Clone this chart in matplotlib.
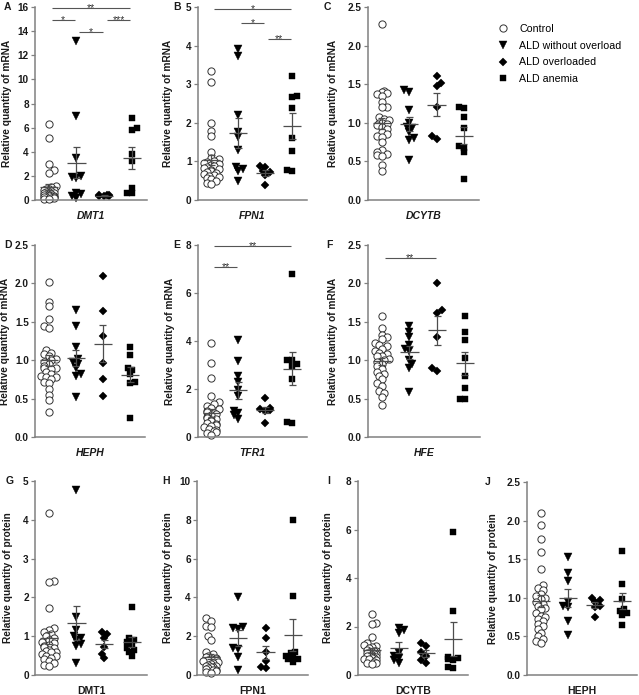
import numpy as np
import matplotlib
matplotlib.use('Agg')
import matplotlib.pyplot as plt
from matplotlib.lines import Line2D

plt.rcParams['font.family'] = ['Liberation Sans', 'DejaVu Sans']

W, H = 639, 695
DPI = 100

group_names = ['Control', 'ALD without overload', 'ALD overloaded', 'ALD anemia']
group_markers = ['o', 'v', 'D', 's']

# ---------------- data ----------------
# A: DMT1 mRNA
A_control = [6.3, 5.1, 3.0, 2.5, 2.2, 1.15, 1.05, 0.95, 0.9, 0.85, 0.8, 0.75, 0.7, 0.65, 0.6,
             0.55, 0.5, 0.45, 0.42, 0.4, 0.35, 0.32, 0.3, 0.28, 0.25, 0.22, 0.2, 0.15, 0.12, 0.1]
A_without = [13.2, 7.0, 3.5, 2.0, 1.8, 1.9, 0.6, 0.5, 0.3, 0.2]
A_overloaded = [0.45, 0.4, 0.38, 0.35, 0.32, 0.3]
A_anemia = [6.8, 6.0, 5.8, 3.8, 3.2, 1.0, 0.6, 0.6]
# B: FPN1 mRNA
B_control = [3.35, 3.05, 2.0, 1.78, 1.65, 1.25, 1.1, 1.05, 1.0, 0.98, 0.95, 0.92, 0.9, 0.88, 0.85,
             0.82, 0.8, 0.78, 0.75, 0.72, 0.7, 0.68, 0.65, 0.62, 0.6, 0.58, 0.55, 0.5, 0.45, 0.42]
B_without = [3.9, 3.72, 2.2, 1.75, 1.62, 1.3, 0.85, 0.8, 0.75, 0.5]
B_overloaded = [0.88, 0.85, 0.75, 0.72, 0.65, 0.38]
B_anemia = [3.22, 2.7, 2.68, 2.38, 1.6, 1.28, 0.78, 0.76]
# C: DCYTB mRNA
C_control = [2.28, 1.41, 1.40, 1.38, 1.37, 1.35, 1.27, 1.21, 1.20, 1.07, 1.05, 1.03, 1.0, 1.0, 0.98,
             0.97, 0.95, 0.92, 0.88, 0.85, 0.83, 0.82, 0.75, 0.65, 0.62, 0.6, 0.58, 0.57, 0.45, 0.37]
C_without = [1.43, 1.4, 1.17, 1.0, 0.95, 0.93, 0.88, 0.8, 0.78, 0.52]
C_overloaded = [1.6, 1.52, 1.48, 1.2, 0.83, 0.79]
C_anemia = [1.21, 1.19, 1.08, 0.93, 0.7, 0.68, 0.62, 0.27]
# D: HEPH mRNA
D_control = [2.02, 1.76, 1.7, 1.53, 1.45, 1.42, 1.13, 1.1, 1.08, 1.05, 1.02, 1.0, 0.98, 0.95, 0.92,
             0.9, 0.9, 0.88, 0.85, 0.82, 0.8, 0.78, 0.78, 0.75, 0.72, 0.7, 0.62, 0.55, 0.48, 0.33]
D_without = [1.66, 1.45, 1.17, 1.02, 0.98, 0.95, 0.9, 0.82, 0.8, 0.52]
D_overloaded = [2.1, 1.64, 1.32, 0.96, 0.75, 0.53]
D_anemia = [1.17, 1.07, 0.9, 0.87, 0.82, 0.72, 0.7, 0.25]
# E: TFR1 mRNA
E_control = [3.9, 3.1, 2.45, 1.7, 1.45, 1.38, 1.3, 1.22, 1.15, 1.1, 1.05, 1.0, 0.95, 0.9, 0.85,
             0.8, 0.75, 0.7, 0.65, 0.6, 0.55, 0.5, 0.45, 0.4, 0.35, 0.3, 0.25, 0.2, 0.15, 0.1]
E_without = [4.05, 3.15, 2.55, 2.3, 1.95, 1.7, 1.1, 1.0, 0.9, 0.75]
E_overloaded = [1.62, 1.2, 1.15, 1.12, 1.1, 0.58]
E_anemia = [6.78, 3.22, 3.2, 3.05, 2.95, 2.4, 0.58, 0.62]
# F: HFE mRNA
F_control = [1.58, 1.42, 1.33, 1.3, 1.27, 1.22, 1.2, 1.18, 1.15, 1.12, 1.1, 1.08, 1.05, 1.05, 1.02,
             1.0, 0.98, 0.95, 0.92, 0.88, 0.85, 0.82, 0.8, 0.75, 0.7, 0.67, 0.6, 0.57, 0.52, 0.42]
F_without = [1.45, 1.37, 1.3, 1.2, 1.15, 1.12, 1.0, 0.95, 0.9, 0.58]
F_overloaded = [2.0, 1.65, 1.62, 1.3, 0.9, 0.86]
F_anemia = [1.57, 1.37, 1.26, 1.03, 0.8, 0.64, 0.49, 0.5]
# G: DMT1 protein
G_control = [4.17, 2.43, 2.4, 1.72, 1.2, 1.15, 1.1, 1.05, 1.0, 0.95, 0.9, 0.85, 0.82, 0.78, 0.75,
             0.72, 0.7, 0.65, 0.62, 0.6, 0.58, 0.55, 0.5, 0.48, 0.45, 0.4, 0.35, 0.3, 0.25, 0.22]
G_without = [4.78, 1.5, 1.15, 1.0, 0.95, 0.9, 0.8, 0.75, 0.3]
G_overloaded = [1.1, 1.05, 0.95, 0.72, 0.55, 0.45]
G_anemia = [1.75, 0.95, 0.9, 0.85, 0.8, 0.7, 0.65, 0.6, 0.5]
# H: FPN1 protein
H_control = [2.92, 2.8, 2.55, 2.45, 2.02, 1.8, 1.2, 1.1, 1.0, 0.95, 0.9, 0.85, 0.8, 0.75, 0.7,
             0.65, 0.6, 0.55, 0.5, 0.48, 0.45, 0.42, 0.4, 0.35, 0.3, 0.28, 0.25, 0.2, 0.15, 0.1]
H_without = [4.0, 2.45, 2.4, 2.35, 1.4, 1.35, 0.95, 0.25]
H_overloaded = [2.42, 1.9, 1.2, 0.7, 0.35, 0.4]
H_anemia = [8.0, 4.08, 1.2, 1.15, 1.0, 0.95, 0.85, 0.8, 0.67]
# I: DCYTB protein
I_control = [2.52, 2.15, 2.1, 1.55, 1.3, 1.25, 1.2, 1.15, 1.1, 1.05, 1.0, 0.98, 0.95, 0.92, 0.9,
             0.88, 0.85, 0.82, 0.8, 0.78, 0.75, 0.72, 0.7, 0.68, 0.65, 0.6, 0.55, 0.5, 0.48, 0.45]
I_without = [1.95, 1.85, 1.75, 0.9, 0.8, 0.7, 0.6, 0.5]
I_overloaded = [1.3, 1.2, 0.95, 0.8, 0.6, 0.5]
I_anemia = [5.9, 2.65, 0.75, 0.7, 0.65, 0.6, 0.35, 0.28]
# J: HEPH protein
J_control = [2.1, 1.94, 1.76, 1.59, 1.37, 1.16, 1.13, 1.1, 1.05, 1.02, 1.0, 0.98, 0.95, 0.92, 0.9,
             0.87, 0.85, 0.8, 0.77, 0.75, 0.72, 0.7, 0.66, 0.63, 0.6, 0.55, 0.5, 0.47, 0.44, 0.42]
J_without = [1.53, 1.32, 1.22, 0.95, 0.9, 0.88, 0.7, 0.52]
J_overloaded = [1.0, 0.97, 0.95, 0.9, 0.88, 0.75]
J_anemia = [1.6, 1.18, 0.98, 0.85, 0.83, 0.8, 0.78, 0.65]

gene_labels = ['DMT1', 'FPN1', 'DCYTB', 'HEPH', 'TFR1', 'HFE', 'DMT1', 'FPN1', 'DCYTB', 'HEPH']
y_maxima = [16, 5, 2.5, 2.5, 8, 2.5, 5, 10, 8, 2.5]
y_steps = [2, 1, 0.5, 0.5, 2, 0.5, 1, 2, 2, 0.5]

# significance brackets: (group a, group b, height, label)
sig_A = [(1, 4, 15.9, '**'), (1, 2, 14.95, '*'), (3, 4, 14.95, '***'), (2, 3, 13.9, '*')]
sig_B = [(1, 4, 4.96, '*'), (2, 3, 4.58, '*'), (3, 4, 4.17, '**')]
sig_E = [(1, 4, 7.94, '**'), (1, 2, 7.09, '**')]
sig_F = [(1, 3, 2.33, '**')]

panels = [
    ('A', [A_control, A_without, A_overloaded, A_anemia], sig_A, (35, 147, 7, 200), 23, 'mRNA', True, (4, 7)),
    ('B', [B_control, B_without, B_overloaded, B_anemia], sig_B, (198, 307, 7, 200), 25, 'mRNA', True, (173, 7)),
    ('C', [C_control, C_without, C_overloaded, C_anemia], [], (368, 479, 7, 200), 30, 'mRNA', True, (324, 7)),
    ('D', [D_control, D_without, D_overloaded, D_anemia], [], (35, 145, 245, 437), 25, 'mRNA', True, (4, 245)),
    ('E', [E_control, E_without, E_overloaded, E_anemia], sig_E, (198, 307, 245, 437), 23, 'mRNA', True, (173, 245)),
    ('F', [F_control, F_without, F_overloaded, F_anemia], sig_F, (368, 480, 245, 437), 30, 'mRNA', True, (326, 245)),
    ('G', [G_control, G_without, G_overloaded, G_anemia], [], (35, 147, 481, 675), 22, 'protein', False, (6, 481)),
    ('H', [H_control, H_without, H_overloaded, H_anemia], [], (197, 308, 481, 675), 24, 'protein', False, (162, 481)),
    ('I', [I_control, I_without, I_overloaded, I_anemia], [], (358, 468, 481, 675), 25, 'protein', False, (327, 481)),
    ('J', [J_control, J_without, J_overloaded, J_anemia], [], (527, 637, 482, 675), 29, 'protein', False, (485, 482)),
]

XLIM = (0.5, 4.55)
AX_COLOR = '#808080'
LINE_COLOR = '#4d4d4d'
MS = {'o': 5.2, 'v': 5.4, 'D': 4.4, 's': 4.6}


def swarm_offsets(vals, ppu_x, ppu_y, diam_px=4.4, max_units=0.34):
    vals = np.asarray(vals, float)
    order = np.argsort(vals)
    placed = []
    offs = np.zeros(len(vals))
    step = diam_px * 0.55
    limit = max_units * ppu_x
    for n, i in enumerate(order):
        y = vals[i] * ppu_y
        chosen = None
        for k in range(0, 60):
            cands = [0.0] if k == 0 else ([k * step, -k * step] if n % 2 == 0 else [-k * step, k * step])
            for off in cands:
                if abs(off) > limit:
                    continue
                if all((off - px) ** 2 + (y - py) ** 2 >= diam_px ** 2 for px, py in placed):
                    chosen = off
                    break
            if chosen is not None:
                break
        if chosen is None:
            chosen = float(np.clip((n % 5 - 2) * step, -limit, limit))
        placed.append((chosen, y))
        offs[i] = chosen / ppu_x
    return offs


fig = plt.figure(figsize=(W / DPI, H / DPI), dpi=DPI)

for idx, (letter, groups, sigs, box, ylab_dx, kind, italic, lpos) in enumerate(panels):
    l, r, t, b = box
    ax = fig.add_axes([l / W, 1 - b / H, (r - l) / W, (b - t) / H])
    ymax = y_maxima[idx]
    step = y_steps[idx]
    ax.set_xlim(*XLIM)
    ax.set_ylim(0, ymax)
    axw, axh = r - l, b - t
    ppu_x = axw / (XLIM[1] - XLIM[0])
    ppu_y = axh / ymax

    for gi, vals in enumerate(groups):
        pos = gi + 1
        xs = pos + swarm_offsets(vals, ppu_x, ppu_y)
        m = group_markers[gi]
        if m == 'o':
            ax.plot(xs, vals, linestyle='none', marker='o', ms=MS['o'], mfc='white', mec='#333333',
                    mew=0.7, clip_on=False, zorder=2)
        else:
            ax.plot(xs, vals, linestyle='none', marker=m, ms=MS[m], mfc='black', mec='black',
                    mew=0.3, clip_on=False, zorder=2)
        arr = np.asarray(vals, float)
        mean = arr.mean()
        sem = arr.std(ddof=1) / np.sqrt(len(arr))
        ax.hlines(mean, pos - 0.33, pos + 0.33, colors=LINE_COLOR, lw=0.9, zorder=4)
        ax.vlines(pos, mean - sem, mean + sem, colors=LINE_COLOR, lw=0.9, zorder=4)
        ax.hlines([mean - sem, mean + sem], pos - 0.13, pos + 0.13, colors=LINE_COLOR, lw=0.9, zorder=4)

    for (g1, g2, hgt, lab) in sigs:
        x1, x2 = g1 + 0.1, g2 - 0.05
        ax.hlines(hgt, x1, x2, colors='#555555', lw=0.8, clip_on=False, zorder=3)
        ax.annotate(lab, xy=((x1 + x2) / 2, hgt), xytext=(0, -2.2), textcoords='offset points',
                    ha='center', va='baseline', fontsize=7.5, color='#333333',
                    annotation_clip=False)

    for side in ('top', 'right'):
        ax.spines[side].set_visible(False)
    for side in ('left', 'bottom'):
        ax.spines[side].set_color(AX_COLOR)
        ax.spines[side].set_linewidth(1.1)
    ax.set_xticks([])
    ticks = np.arange(0, ymax + step / 2, step)
    ax.set_yticks(ticks)
    if step < 1:
        labs = ['%.1f' % v for v in ticks]
    else:
        labs = ['%d' % v for v in ticks]
    ax.set_yticklabels(labs, fontweight='bold', fontsize=7.2, color='#1a1a1a')
    ax.tick_params(axis='y', direction='out', length=3, width=0.9, color=AX_COLOR, pad=1.5)

    ax.set_ylabel('Relative quantity of ' + kind, fontsize=7.3, fontweight='bold', color='#1a1a1a')
    ax.yaxis.set_label_coords(-ylab_dx / axw, 0.5)

    ax.text(0.5, -16 / axh, gene_labels[idx], transform=ax.transAxes, ha='center', va='center',
            fontsize=7.5, fontweight='bold', fontstyle='italic' if italic else 'normal', color='#1a1a1a')

    fig.text(lpos[0] / W, 1 - lpos[1] / H, letter, ha='left', va='center', fontsize=7.5,
             fontweight='bold', color='#1a1a1a')

# legend
handles = []
for name, m in zip(group_names, group_markers):
    if m == 'o':
        h = Line2D([], [], linestyle='none', marker='o', ms=MS['o'], mfc='white', mec='#333333', mew=0.7)
    else:
        h = Line2D([], [], linestyle='none', marker=m, ms=MS[m], mfc='black', mec='black', mew=0.3)
    handles.append(h)
fig.legend(handles, group_names, loc='upper left', bbox_to_anchor=(498 / W, 1 - 24 / H),
           frameon=False, fontsize=7.7, handlelength=1.0, handletextpad=1.0, labelspacing=0.62,
           borderpad=0, borderaxespad=0)

fig.savefig('out.png', dpi=DPI)
